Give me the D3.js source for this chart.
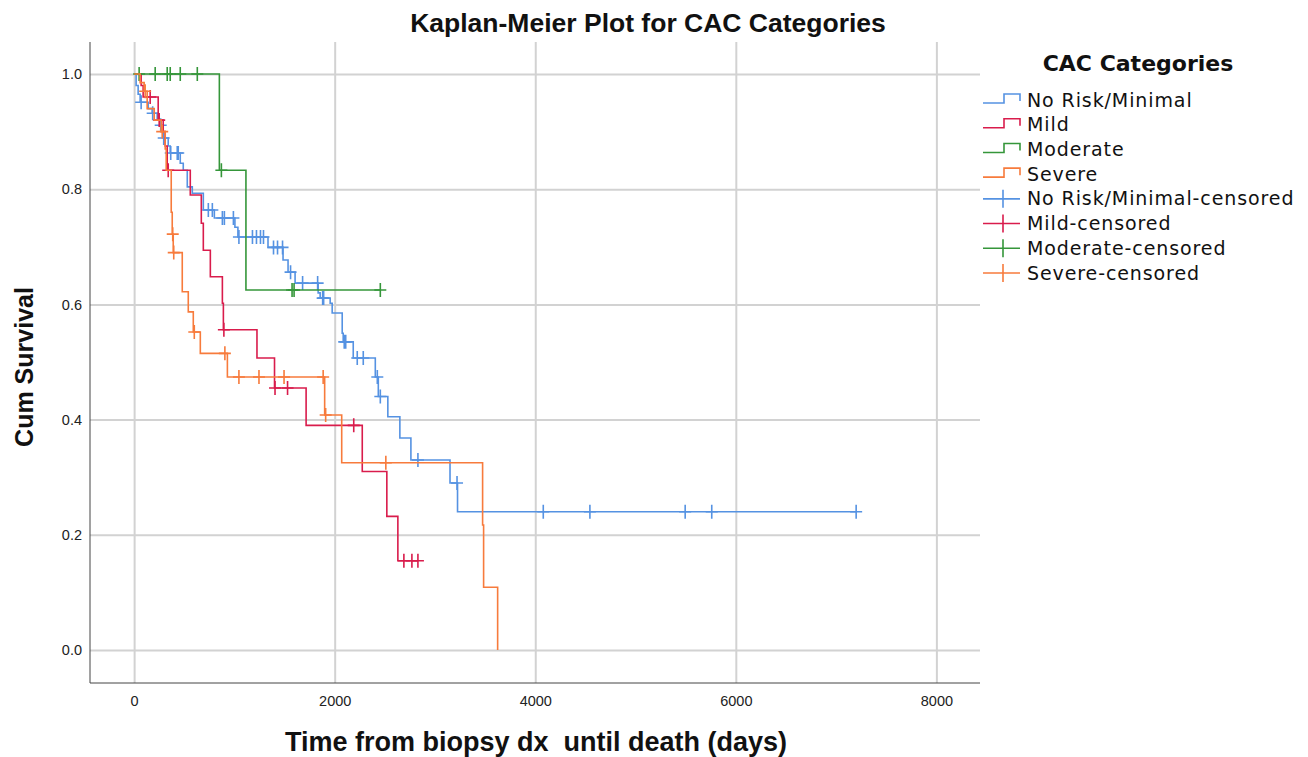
<!DOCTYPE html>
<html>
<head>
<meta charset="utf-8">
<script src="https://cdn.jsdelivr.net/npm/d3@7"></script>
<style>
  body { margin: 0; background: #fff; }
  .axis-title { font-family: "Liberation Sans", sans-serif; font-weight: bold; fill: #111; }
  .tick text { font-family: "Liberation Sans", sans-serif; font-size: 14.5px; fill: #222; }
  .legend text { font-family: "DejaVu Sans", sans-serif; fill: #111; }
</style>
</head>
<body>
<svg id="chart" width="1308" height="757"></svg>
<script>
// survival steps [time, survival after drop] and censored times
const noRiskSteps = [[0,1],[20,0.98],[40,0.965],[60,0.951],[140,0.94],[180,0.932],[230,0.92],[260,0.911],[290,0.889],
  [340,0.875],[360,0.863],[460,0.845],[490,0.833],[530,0.804],[580,0.793],[690,0.764],[800,0.75],[1005,0.734],
  [1035,0.717],[1335,0.699],[1485,0.677],[1535,0.656],[1605,0.637],[1835,0.62],[1855,0.611],[1955,0.602],
  [1975,0.585],[2075,0.55],[2085,0.535],[2185,0.507],[2405,0.474],[2435,0.44],[2530,0.405],[2650,0.368],
  [2760,0.33],[3150,0.29],[3225,0.24]];
const noRiskCensored = [70,185,265,295,365,430,440,740,780,880,900,990,1045,1180,1220,1260,1290,1390,1430,1480,
  1560,1680,1830,1880,1890,2095,2110,2225,2285,2425,2455,2830,3220,4080,4545,5495,5760,7200];

const mildSteps = [[0,1],[70,0.98],[90,0.96],[240,0.92],[290,0.9],[310,0.875],[330,0.833],[560,0.79],[670,0.741],
  [690,0.694],[760,0.648],[880,0.602],[890,0.556],[1225,0.507],[1400,0.455],[1715,0.39],[2275,0.31],[2520,0.232],
  [2630,0.155]];
const mildCensored = [160,250,340,895,1405,1530,2190,2690,2770,2830];

const moderateSteps = [[0,1],[850,0.833],[1115,0.625]];
const moderateCensored = [50,210,330,360,460,630,870,1575,1595,2455];

const severeSteps = [[0,1],[60,0.985],[100,0.97],[130,0.94],[200,0.92],[270,0.9],[310,0.87],[320,0.833],[370,0.76],
  [380,0.722],[390,0.69],[480,0.622],[540,0.587],[590,0.552],[660,0.515],[930,0.474],[1900,0.408],[2070,0.325],
  [3475,0.217],[3485,0.109],[3625,0]];
const severeCensored = [110,280,385,395,600,905,1045,1245,1495,1885,1910,2510];

const groupNames = ["No Risk/Minimal", "Mild", "Moderate", "Severe"];
const groupColors = ["#5592e2", "#d91c4c", "#35963a", "#f77b3c"];
const xTicks = [0, 2000, 4000, 6000, 8000];
const yTicks = [0, 0.2, 0.4, 0.6, 0.8, 1.0];

const groups = [
  {name: groupNames[0], steps: noRiskSteps, censored: noRiskCensored},
  {name: groupNames[1], steps: mildSteps, censored: mildCensored},
  {name: groupNames[2], steps: moderateSteps, censored: moderateCensored},
  {name: groupNames[3], steps: severeSteps, censored: severeCensored}
];

// frame of the plot
const frame = {left: 90, right: 980, top: 42, bottom: 683};

const svg = d3.select("#chart");

const x = d3.scaleLinear().domain([-440, 8435]).range([frame.left, frame.right]);
const y = d3.scaleLinear().domain([-0.0573, 1.0556]).range([frame.bottom, frame.top]);

// gridlines
svg.append("g")
  .attr("transform", "translate(0," + frame.bottom + ")")
  .call(d3.axisBottom(x).tickValues(xTicks).tickSize(-(frame.bottom - frame.top)).tickFormat(""))
  .call(g => g.select(".domain").remove())
  .call(g => g.selectAll("line").attr("stroke", "#d2d2d2").attr("stroke-width", 2));

svg.append("g")
  .attr("transform", "translate(" + frame.left + ",0)")
  .call(d3.axisLeft(y).tickValues(yTicks).tickSize(-(frame.right - frame.left)).tickFormat(""))
  .call(g => g.select(".domain").remove())
  .call(g => g.selectAll("line").attr("stroke", "#d2d2d2").attr("stroke-width", 2));

// axes
svg.append("g")
  .attr("transform", "translate(0," + frame.bottom + ")")
  .call(d3.axisBottom(x).tickValues(xTicks).tickSize(0).tickPadding(13).tickFormat(d3.format("d")))
  .call(g => g.select(".domain").attr("stroke", "#444").attr("d", "M" + frame.left + ",0H" + frame.right));

svg.append("g")
  .attr("transform", "translate(" + frame.left + ",0)")
  .call(d3.axisLeft(y).tickValues(yTicks).tickSize(0).tickPadding(8).tickFormat(d3.format(".1f")))
  .call(g => g.select(".domain").attr("stroke", "#444").attr("d", "M0," + frame.top + "V" + frame.bottom));

// survival at time t
function survAt(steps, t) {
  let s = 1;
  steps.forEach(d => { if (d[0] <= t) s = d[1]; });
  return s;
}

const line = d3.line()
  .x(d => x(d[0]))
  .y(d => y(d[1]))
  .curve(d3.curveStepAfter);

const plot = svg.append("g");

groups.forEach((g, i) => {
  const last = Math.max(g.steps[g.steps.length - 1][0], d3.max(g.censored));
  const pts = g.steps.concat([[last, g.steps[g.steps.length - 1][1]]]);

  plot.append("path")
    .datum(pts)
    .attr("fill", "none")
    .attr("stroke", groupColors[i])
    .attr("stroke-width", 1.6)
    .attr("d", line);

  const marks = plot.append("g").attr("stroke", groupColors[i]).attr("stroke-width", 1.6);
  g.censored.forEach(t => {
    const cx = x(t), cy = y(survAt(g.steps, t));
    marks.append("path").attr("d", "M" + (cx - 6) + "," + cy + "H" + (cx + 6) + "M" + cx + "," + (cy - 7) + "V" + (cy + 7));
  });
});

// titles
svg.append("text").attr("class", "axis-title")
  .attr("x", 648).attr("y", 32).attr("text-anchor", "middle").style("font-size", "26.5px")
  .text("Kaplan-Meier Plot for CAC Categories");

svg.append("text").attr("class", "axis-title")
  .attr("x", 536).attr("y", 751).attr("text-anchor", "middle").style("font-size", "27px")
  .style("white-space", "pre")
  .text("Time from biopsy dx  until death (days)");

svg.append("text").attr("class", "axis-title")
  .attr("transform", "translate(33,367) rotate(-90)").attr("text-anchor", "middle").style("font-size", "25px")
  .text("Cum Survival");

// legend
const legend = svg.append("g").attr("class", "legend");
legend.append("text").attr("x", 1138).attr("y", 71).attr("text-anchor", "middle")
  .style("font-size", "22px").style("font-weight", "bold").text("CAC Categories");

const rowY = d3.scaleLinear().domain([0, 7]).range([100, 273]);
const legendItems = groupNames.map((n, i) => ({label: n, color: groupColors[i], censored: false}))
  .concat(groupNames.map((n, i) => ({label: n + "-censored", color: groupColors[i], censored: true})));

legendItems.forEach((d, i) => {
  const cy = rowY(i);
  const sym = d.censored
    ? "M983," + cy + "H1020M1003," + (cy - 9) + "V" + (cy + 9)
    : "M983," + (cy + 3) + "H1004V" + (cy - 6) + "H1020V" + (cy + 1);
  legend.append("path").attr("d", sym).attr("fill", "none")
    .attr("stroke", d.color).attr("stroke-width", 1.6);
  legend.append("text").attr("x", 1027).attr("y", cy + 6.5)
    .style("font-size", "19px").style("letter-spacing", "0.9px").text(d.label);
});
</script>
</body>
</html>
